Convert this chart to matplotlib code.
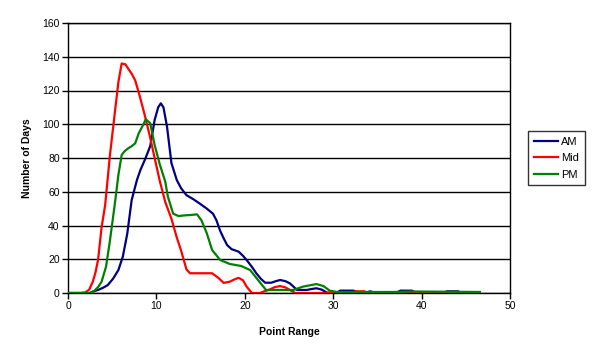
import matplotlib

matplotlib.use("Agg")
import matplotlib.pyplot as plt

plt.rcParams["font.family"] = ["Liberation Sans", "DejaVu Sans"]

# values (point range vs number of days)
am_x = [0, 2.5, 2.8, 3.5, 4.0, 4.5, 5.1, 5.7, 6.2, 6.7, 7.2, 7.8, 8.2, 8.7, 9.3, 9.8,
        10.2, 10.5, 10.8, 11.2, 11.7, 12.3, 12.8, 13.4, 14.2, 14.9, 15.7, 16.4, 16.8,
        17.2, 17.6, 18.0, 18.5, 19.3, 19.8, 20.2, 20.8, 21.3, 21.8, 22.3, 23.0, 23.5,
        24.0, 24.6, 25.1, 25.5, 25.9, 27.0, 27.6, 28.1, 28.7, 29.3, 30.4, 30.8, 32.3,
        32.7, 33.8, 34.2, 34.6, 37.2, 37.6, 38.9, 39.3, 42.5, 42.9, 44.1, 44.5, 46.5]
am_y = [0, 0, 0.8, 2, 3.2, 4.7, 8.5, 13.6, 21.5, 35, 55, 67, 73, 79, 87, 102.5,
        110, 112.4, 110, 98.6, 77, 67, 62, 58, 55.5, 53, 50, 47, 43,
        37, 32.5, 28.4, 26, 24.5, 22, 19.6, 15.5, 11.7, 8.5, 6.1, 6.1, 7,
        7.7, 7, 5.7, 3.8, 1.8, 1.8, 2.4, 2.8, 2.0, 0.2, 0.2, 1.4, 1.4,
        0.4, 0.4, 1, 0.3, 0.3, 1.4, 1.4, 0.3, 0.3, 1, 1, 0.3, 0.3]

mid_x = [0, 1.5, 2.0, 2.4, 2.8, 3.1, 3.4, 3.8, 4.2, 4.75, 5.3, 5.7, 6.07, 6.5, 6.8,
         7.2, 7.6, 8.1, 8.7, 9.3, 9.8, 10.4, 11.0, 11.7, 12.3, 12.8, 13.4, 13.8, 14.5,
         15.5, 16.3, 17.0, 17.6, 18.3, 18.8, 19.3, 19.8, 20.2, 20.8, 21.7, 22.2, 22.7,
         23.4, 24.0, 24.6, 25.1, 25.7, 32.0, 32.5, 33.5, 34.0, 46.5]
mid_y = [0, 0, 0.5, 2, 6.7, 12, 19.6, 39, 52, 82, 107, 125, 136, 135.5, 133,
         130, 126, 117, 105, 92, 80, 66, 54, 44, 33, 25, 14, 11.7, 11.7,
         11.7, 11.7, 9, 6, 6.7, 8, 9, 7.5, 3.8, 0, 0, 1, 1.8,
         3.5, 4.1, 3.3, 1.8, 0, 0, 1, 1, 0, 0]

pm_x = [0, 2.5, 3.0, 3.4, 3.8, 4.3, 4.7, 5.1, 5.35, 5.7, 6.07, 6.4, 6.8, 7.2, 7.6,
        8.0, 8.5, 8.8, 9.3, 9.8, 10.4, 11.0, 11.3, 11.9, 12.5, 13.2, 13.8, 14.6, 15.1,
        15.7, 16.3, 17.2, 18.3, 19.6, 20.6, 21.5, 22.4, 25.5, 26.6, 28.1, 28.9, 29.6,
        30.4, 36.8, 38.7, 46.6]
pm_y = [0, 0, 1.4, 3.5, 6.7, 15.6, 29.4, 45, 55, 70, 81.8, 84, 85.7, 87, 88.7,
        94.6, 99.6, 103, 100.6, 87.7, 75.9, 66, 57, 47, 45.6, 46, 46.2, 46.6, 43,
        35.4, 25.5, 19.6, 17.2, 16, 13.6, 7.7, 1.8, 1.8, 3.8, 5.3, 4.1, 1.4,
        0.6, 0.6, 0.9, 0.6]

x_ticks = [0, 10, 20, 30, 40, 50]
y_ticks = [0, 20, 40, 60, 80, 100, 120, 140, 160]

fig = plt.figure(figsize=(5.92, 3.56), dpi=100)
ax = fig.add_axes([68 / 592, 1 - 293 / 356, (510 - 68) / 592, (293 - 23) / 356])

ax.plot(am_x, am_y, color="#000080", lw=1.6, label="AM", zorder=3)
ax.plot(mid_x, mid_y, color="#ff0000", lw=1.6, label="Mid", zorder=3)
ax.plot(pm_x, pm_y, color="#008000", lw=1.6, label="PM", zorder=3)

ax.set_xlim(0, 50)
ax.set_ylim(0, 160)
ax.set_xticks(x_ticks)
ax.set_yticks(y_ticks)
ax.yaxis.grid(True, color="black", lw=1.0)
ax.set_axisbelow(True)
for s in ax.spines.values():
    s.set_color("black")
    s.set_linewidth(1.0)
ax.tick_params(direction="out", length=4, width=1, labelsize=7.5, colors="black", pad=2)

ax.set_xlabel("Point Range", fontsize=7.5, fontweight="bold", labelpad=11)
ax.set_ylabel("Number of Days", fontsize=7.5, fontweight="bold", labelpad=7)

leg = fig.legend(loc="upper left", bbox_to_anchor=(528 / 592, 1 - 131 / 356),
                 fontsize=8, frameon=True, fancybox=False, edgecolor="black",
                 handlelength=2.2, handletextpad=0.3, borderpad=0.5, labelspacing=0.6,
                 borderaxespad=0)
leg.get_frame().set_linewidth(1.0)

fig.savefig("out.png", dpi=100)
